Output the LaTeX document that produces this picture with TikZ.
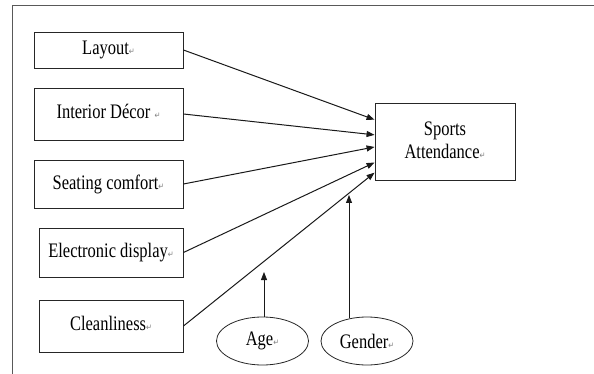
\documentclass[tikz,border=0pt]{standalone}
\usepackage{fontspec}
\usepackage{graphicx}
\setmainfont{Liberation Serif}
\newfontfamily\dejavu{DejaVu Sans}
\usetikzlibrary{shapes.geometric,arrows.meta,calc}
\newcommand\retm{{\dejavu\fontsize{7}{7}\selectfont\textcolor{gray}{↵}}}
\newcommand\tall[1]{\scalebox{1}[1.25]{#1}}
\begin{document}
\begin{tikzpicture}[x=1pt,y=-1pt,
  box/.style={draw=black!85,line width=0.9pt,inner sep=0pt,minimum width=#1},
  box/.default=149,
  oval/.style={draw=black!85,line width=0.8pt,ellipse,inner sep=0pt,minimum width=92,minimum height=48},
  lbl/.style={font=\fontsize{16.5}{20}\selectfont},
  conn/.style={draw=black!90,line width=1pt,-{Triangle[length=8pt,width=6pt]}},
  frame/.style={draw=black!65,line width=1pt}]
\useasboundingbox (0,0) rectangle (594,374);
\draw[frame] (12,374) -- (12,6) -- (594,6);
% boxes
\node[box,minimum height=36,lbl] (lay) at (108.5,50) {\tall{Layout\retm}};
\node[box,minimum height=52,lbl] (dec) at (108.5,114) {\raisebox{6pt}{\tall{Interior Décor \retm}}};
\node[box,minimum height=48,lbl] (seat) at (108.5,184) {\raisebox{3pt}{\tall{Seating comfort\retm}}};
\node[box=144,minimum height=49,lbl] (elec) at (111,252.5) {\raisebox{3pt}{\tall{Electronic display\retm}}};
\node[box=144,minimum height=52,lbl] (clean) at (111,326) {\raisebox{5pt}{\tall{Cleanliness\retm}}};
\node[box=140,minimum height=77,lbl,align=center] (sa) at (445,141.5) {\raisebox{3pt}{\tall{\shortstack{Sports\\[0pt]Attendance\retm}}}};
\node[oval,lbl] (age) at (262.5,341) {\tall{Age\retm}};
\node[oval,lbl] (gen) at (367,341) {\tall{Gender\retm}};
% connectors
\draw[conn] (lay.east) -- ($(sa.north west)!0.22!(sa.south west)$);
\draw[conn] (dec.east) -- ($(sa.north west)!0.415!(sa.south west)$);
\draw[conn] (seat.east) -- ($(sa.north west)!0.57!(sa.south west)$);
\draw[conn] (elec.east) -- ($(sa.north west)!0.77!(sa.south west)$);
\draw[conn] (clean.east) -- ($(sa.north west)!0.9!(sa.south west)$);
\coordinate (atip) at (264,272);
\coordinate (gtip) at (349,195);
\draw[conn,line width=0.8pt] (atip |- age.north) -- (atip);
\draw[conn,line width=0.8pt] ($(gtip |- gen.north)+(0,1.5)$) -- (gtip);
\end{tikzpicture}
\end{document}
